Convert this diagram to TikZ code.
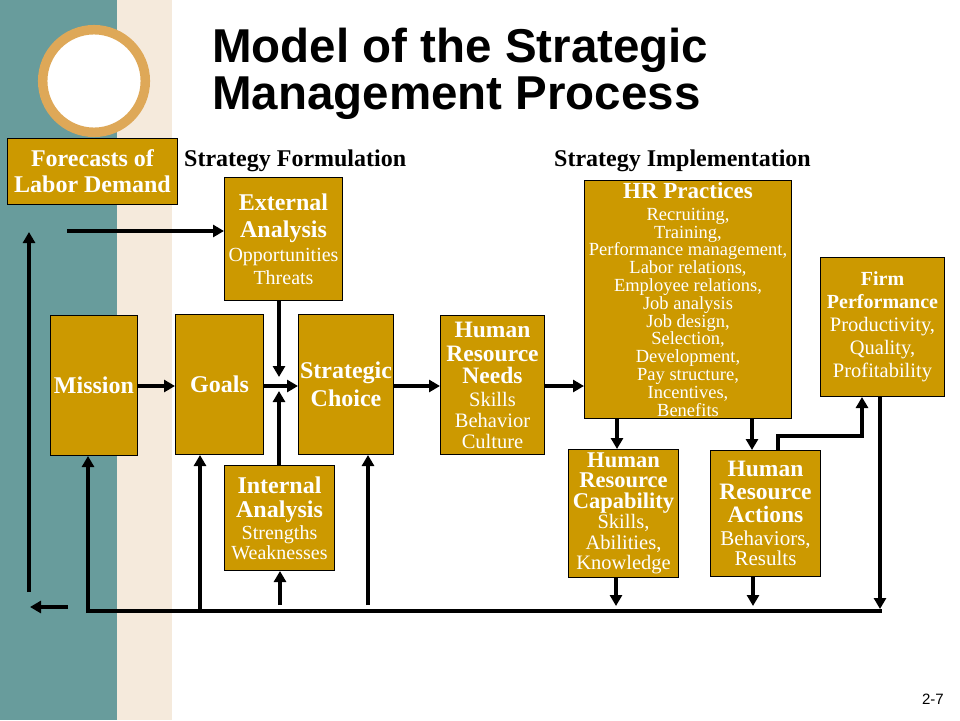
\documentclass[tikz,border=0pt]{standalone}
\usepackage{fontspec}
\setmainfont{Liberation Serif}
\newfontfamily\arialf{Liberation Sans}
\usetikzlibrary{arrows.meta}
\definecolor{teal1}{RGB}{104,156,156}
\definecolor{beige1}{RGB}{245,234,220}
\definecolor{ring1}{RGB}{222,168,88}
\definecolor{gold1}{RGB}{204,153,0}
\newcommand\hbold[2]{{\fontsize{#1}{#1}\selectfont\bfseries #2}}
\begin{document}
\begin{tikzpicture}[x=1pt,y=-1pt,
  box/.style={draw=black, line width=1pt, fill=gold1, text=white, inner sep=0pt, align=center, anchor=north west},
  arr/.style={line width=4pt, line join=miter, -{Triangle[length=11pt,width=12pt]}},
  ln/.style={line width=4pt},
  lbl/.style={font=\fontsize{24}{24}\selectfont\bfseries, anchor=base west, inner sep=0pt},
  ttl/.style={font=\arialf\fontsize{47.5}{47.5}\selectfont\bfseries, anchor=base west, inner sep=0pt}]
\useasboundingbox (0,0) rectangle (960,720);
\fill[white] (0,0) rectangle (960,720);
\fill[teal1] (0,0) rectangle (117,720);
\fill[beige1] (117,0) rectangle (172,720);
\draw[ring1, line width=9.5pt, fill=white] (94,81) circle[radius=51.3];

\node[ttl] (t1) at (212,62) {Model of the Strategic};
\node[ttl] (t2) at (212,109) {Management Process};
\node[lbl] (sf) at (184,166) {Strategy Formulation};
\node[lbl] (si) at (554,166) {Strategy Implementation};
\node[font=\arialf\fontsize{15}{15}\selectfont, anchor=base east, inner sep=0pt] (pg) at (944,704) {2-7};

\node[box, minimum width=170pt, minimum height=66pt, font=\fontsize{24}{26}\selectfont\bfseries] (fore) at (7,138) {Forecasts of\\Labor Demand};
\node[box, minimum width=118pt, minimum height=123pt, font=\fontsize{20}{23}\selectfont] (ext) at (224,177)
  {\hbold{24}{External}\\[4pt]\hbold{24}{Analysis}\\[1pt]Opportunities\\Threats};
\node[box, minimum width=87pt, minimum height=140pt, font=\fontsize{24}{24}\selectfont\bfseries] (mission) at (50,315) {Mission};
\node[box, minimum width=88pt, minimum height=140pt, font=\fontsize{24}{24}\selectfont\bfseries] (goals) at (175,314) {Goals};
\node[box, minimum width=95pt, minimum height=140pt, font=\fontsize{24}{28}\selectfont\bfseries] (choice) at (298,314) {Strategic\\Choice};
\node[box, minimum width=110pt, minimum height=105pt, font=\fontsize{20}{20}\selectfont] (internal) at (224,465)
  {\hbold{24}{Internal}\\[4pt]\hbold{24}{Analysis}\\[2pt]Strengths\\Weaknesses};
\node[box, minimum width=104pt, minimum height=139pt, font=\fontsize{20.5}{21}\selectfont] (needs) at (440,315)
  {\hbold{23.5}{Human}\\[3pt]\hbold{23.5}{Resource}\\[1pt]\hbold{23.5}{Needs}\\[2pt]Skills\\Behavior\\Culture};
\node[box, minimum width=207pt, minimum height=238pt, font=\fontsize{18.5}{17.8}\selectfont] (practices) at (584,180)
  {\hbold{23}{HR Practices}\\[4pt]Recruiting,\\Training,\\Performance management,\\Labor relations,\\Employee relations,\\Job analysis\\Job design,\\Selection,\\Development,\\Pay structure,\\Incentives,\\Benefits};
\node[box, minimum width=124pt, minimum height=139pt, font=\fontsize{20.5}{23}\selectfont] (firm) at (820,257)
  {\hbold{20}{Firm}\\\hbold{20}{Performance}\\Productivity,\\Quality,\\Profitability};
\node[box, minimum width=110pt, minimum height=128pt, font=\fontsize{20.5}{20.5}\selectfont] (capab) at (568,449)
  {\hbold{22.5}{Human}\\\hbold{22.5}{Resource}\\\hbold{22.5}{Capability}\\Skills,\\Abilities,\\Knowledge};
\node[box, minimum width=110pt, minimum height=126pt, font=\fontsize{21}{20}\selectfont] (actions) at (710,450)
  {\hbold{23.5}{Human}\\[3pt]\hbold{23.5}{Resource}\\[3pt]\hbold{23.5}{Actions}\\[3pt]Behaviors,\\Results};

% connectors
\coordinate (r) at (0,386);
\coordinate (l1) at (29,592); \coordinate (l2) at (29,232);
\draw[arr] (l1) -- (l2);
\coordinate (f1) at (67,231);
\draw[arr] (f1) -- (f1 -| ext.west);
\coordinate (b1) at (68,607); \coordinate (b2) at (30,607);
\draw[arr] (b1) -- (b2);
\coordinate (bl) at (86,611); \coordinate (br) at (882,611);
\draw[ln] (bl) -- (br);
\coordinate (m0) at (88,613);
\draw[arr] (m0) -- (m0 |- mission.south);
\coordinate (g0) at (200,609);
\draw[arr] (g0) -- (g0 |- goals.south);
\coordinate (i0) at (280,605);
\draw[arr] (i0) -- (i0 |- internal.south);
\coordinate (c0) at (368,605);
\draw[arr] (c0) -- (c0 |- choice.south);
\draw[arr] (mission.east |- r) -- (goals.west |- r);
\draw[arr] (goals.east |- r) -- (choice.west |- r);
\coordinate (e1) at (279,377);
\draw[arr] (ext.south -| e1) -- (e1);
\coordinate (i1) at (279,391);
\draw[arr] (internal.north -| i1) -- (i1);
\draw[arr] (choice.east |- r) -- (needs.west |- r);
\draw[arr] (needs.east |- r) -- (practices.west |- r);
\coordinate (p1) at (617,0);
\draw[arr] (practices.south -| p1) -- (capab.north -| p1);
\coordinate (p2) at (752,0);
\draw[arr] (practices.south -| p2) -- (actions.north -| p2);
\coordinate (a1) at (778,436); \coordinate (a2) at (862,436);
\draw[arr] (actions.north -| a1) -- (a1) -- (a2) -- (firm.south -| a2);
\coordinate (fd) at (880,609);
\draw[arr] (firm.south -| fd) -- (fd);
\coordinate (cd) at (616,606);
\draw[arr] (capab.south -| cd) -- (cd);
\coordinate (ad) at (753,606);
\draw[arr] (actions.south -| ad) -- (ad);
\end{tikzpicture}
\end{document}
